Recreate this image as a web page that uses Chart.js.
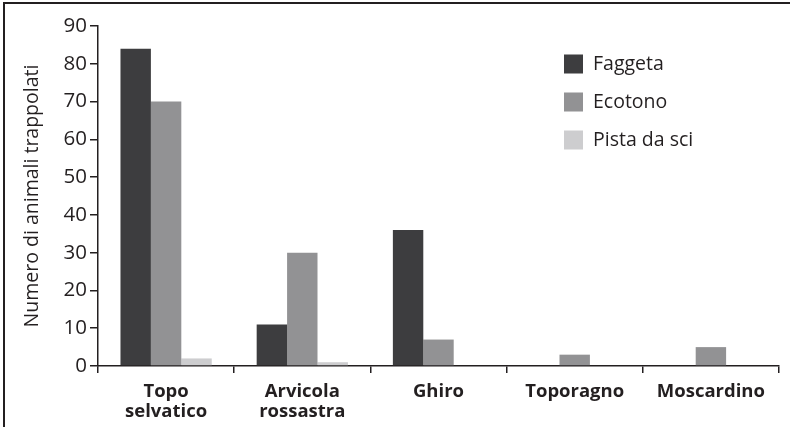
<!DOCTYPE html>
<html>
<head>
<meta charset="utf-8">
<script src="https://cdn.jsdelivr.net/npm/chart.js@4.4.1/dist/chart.umd.min.js"></script>
<style>
  html, body { margin: 0; padding: 0; background: #fff; }
  #wrap { width: 790px; height: 427px; position: relative; }
</style>
</head>
<body>
<div id="wrap"><canvas id="chart"></canvas></div>
<script>
const categories = [
  ['Topo', 'selvatico'],
  ['Arvicola', 'rossastra'],
  'Ghiro',
  'Toporagno',
  'Moscardino'
];
const seriesNames = ['Faggeta', 'Ecotono', 'Pista da sci'];
const faggeta = [84, 11, 36, 0, 0];
const ecotono = [70, 30, 7, 3, 5];
const pistaDaSci = [2, 1, 0, 0, 0];
const yTicks = [0, 10, 20, 30, 40, 50, 60, 70, 80, 90];

const colors = ['#3d3d3f', '#929294', '#cdcdcf'];
const ink = '#231f20';
const fontFamily = '"Open Sans", Lato, sans-serif';

// frame (top and left edge) + legend drawn inside the plot
const framePlugin = {
  id: 'frame',
  afterDraw(chart) {
    const c = chart.ctx;
    c.save();
    c.strokeStyle = ink;
    c.lineWidth = 2;
    c.beginPath();
    c.moveTo(4, 427);
    c.lineTo(4, 3);
    c.lineTo(790, 3);
    c.stroke();

    c.font = '19.5px ' + fontFamily;
    c.textBaseline = 'middle';
    chart.data.datasets.forEach((ds, i) => {
      const y = 64 + i * 38;
      c.fillStyle = ds.backgroundColor;
      c.fillRect(564, y - 9.5, 19, 19);
      c.fillStyle = ink;
      c.fillText(ds.label, 593, y);
    });
    c.restore();
  }
};

const ctx = document.getElementById('chart').getContext('2d');
new Chart(ctx, {
  type: 'bar',
  data: {
    labels: categories,
    datasets: [
      { label: seriesNames[0], data: faggeta, backgroundColor: colors[0] },
      { label: seriesNames[1], data: ecotono, backgroundColor: colors[1] },
      { label: seriesNames[2], data: pistaDaSci, backgroundColor: colors[2] }
    ]
  },
  options: {
    responsive: true,
    maintainAspectRatio: false,
    animation: false,
    datasets: {
      bar: { categoryPercentage: 0.67, barPercentage: 1.0, borderWidth: 0 }
    },
    layout: { padding: { top: 26, right: 11, left: 0, bottom: 0 } },
    plugins: {
      legend: { display: false },
      tooltip: { enabled: false }
    },
    scales: {
      x: {
        offset: true,
        grid: {
          offset: true,
          drawOnChartArea: false,
          drawTicks: true,
          tickLength: 7,
          color: ink,
          lineWidth: 1.5
        },
        border: { color: ink, width: 1.5 },
        ticks: {
          color: ink,
          padding: 9,
          maxRotation: 0,
          autoSkip: false,
          font: { family: fontFamily, size: 18.5, weight: 'bold', lineHeight: 1.07 }
        },
        afterFit(scale) { scale.height = 61; }
      },
      y: {
        min: 0,
        max: 90,
        afterBuildTicks(scale) { scale.ticks = yTicks.map(v => ({ value: v })); },
        grid: {
          drawOnChartArea: false,
          drawTicks: true,
          tickLength: 8,
          color: ink,
          lineWidth: 1.5
        },
        border: { color: ink, width: 1.5 },
        ticks: {
          color: ink,
          padding: 3,
          font: { family: fontFamily, size: 20.5 }
        },
        title: {
          display: true,
          text: 'Numero di animali trappolati',
          color: ink,
          padding: { top: 21, bottom: 0 },
          font: { family: fontFamily, size: 19.5 }
        },
        afterFit(scale) { scale.width = 98; }
      }
    }
  },
  plugins: [framePlugin]
});
</script>
</body>
</html>
